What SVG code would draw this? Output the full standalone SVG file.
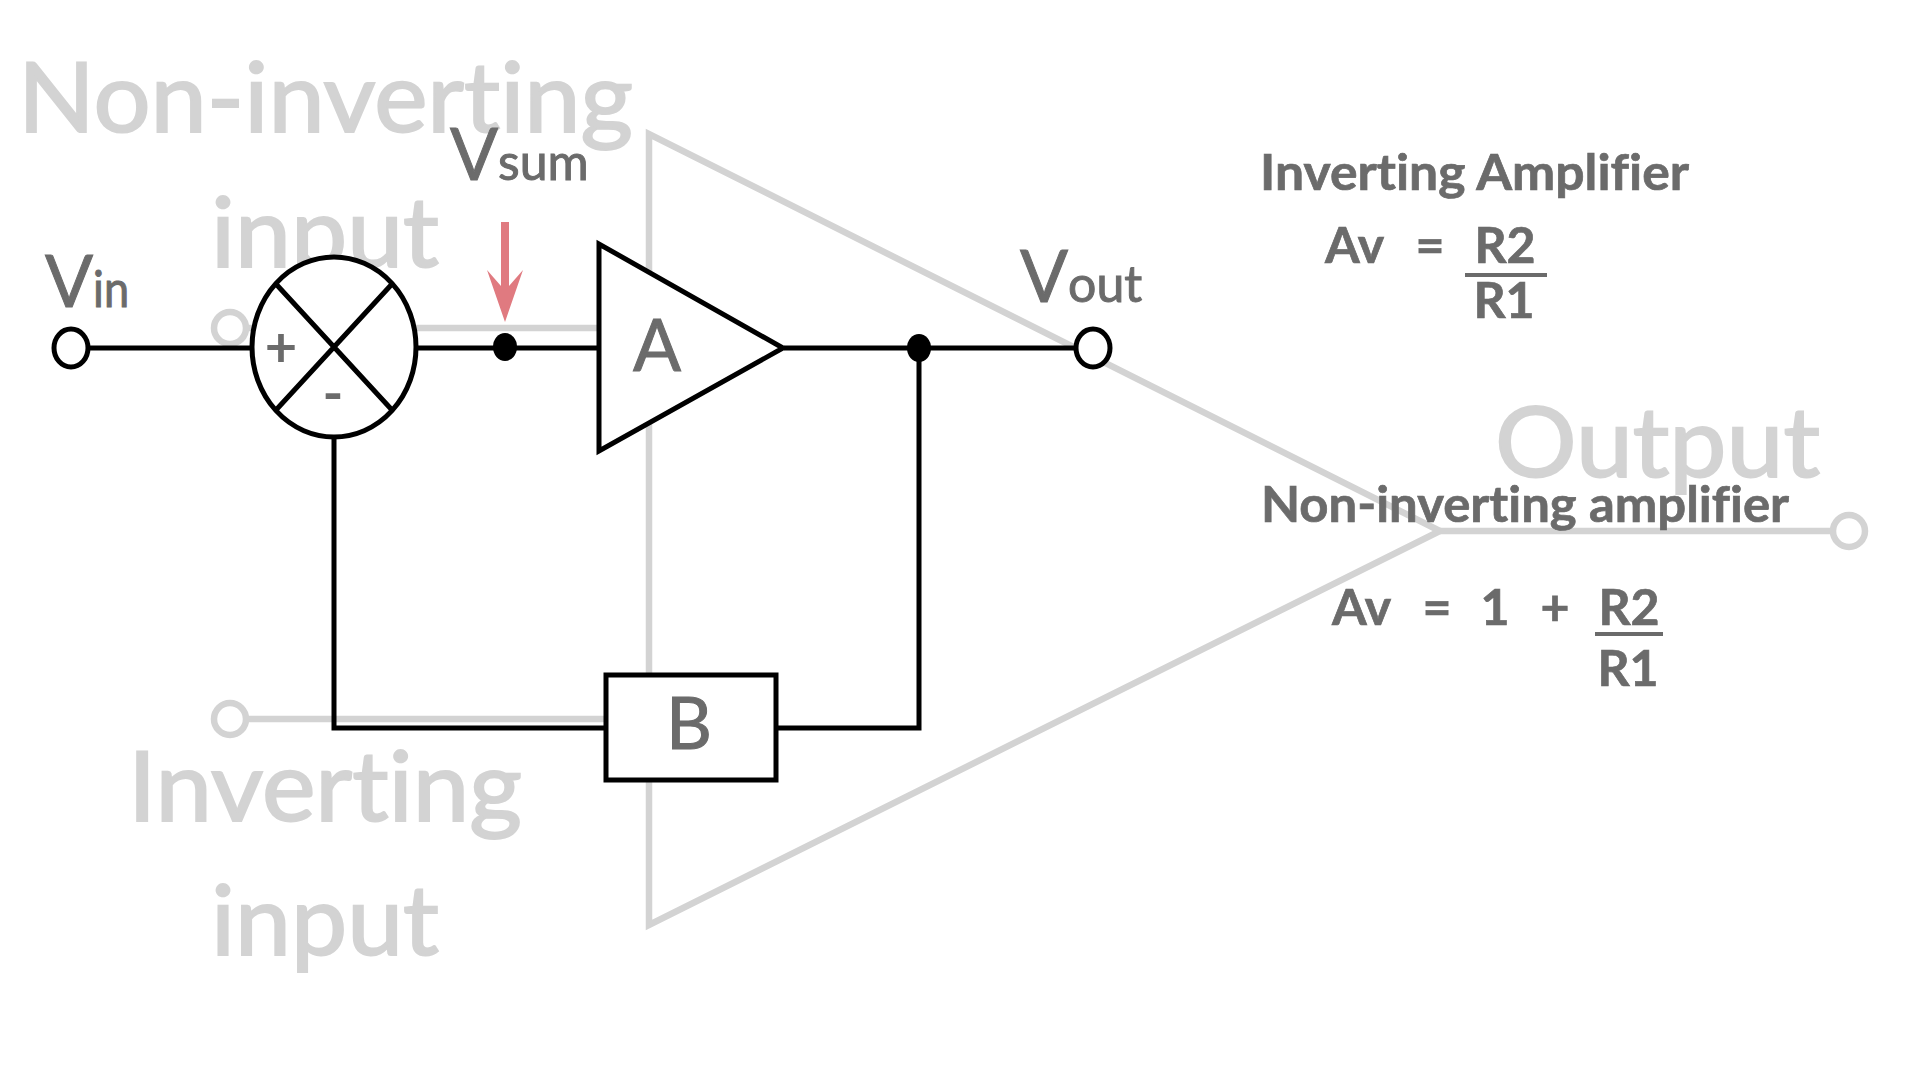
<svg xmlns="http://www.w3.org/2000/svg" width="1920" height="1080" viewBox="0 0 1920 1080">
<style>
text{font-family:Lato,"Noto Sans",sans-serif;font-variant-ligatures:none}
.g{fill:#d3d3d3;stroke:#d3d3d3;stroke-width:2;font-size:97px}
.d{fill:#6b6b6b;stroke:#6b6b6b;stroke-width:1;font-size:71px}
.s{font-size:50px}
.b{fill:#6b6b6b;stroke:#6b6b6b;stroke-width:.7;font-size:50px;font-weight:700}
.m{fill:#6b6b6b;font-size:56px;font-weight:700}
.gl{fill:none;stroke:#d3d3d3;stroke-width:6.5}
.k{fill:none;stroke:#000;stroke-width:5}
.n{fill:#fff;stroke:#000;stroke-width:5}
</style>
<rect width="1920" height="1080" fill="#fff"/>
<g id="background-opamp">
<path class="gl" d="M649 134V925L1440 531Z"/>
<path class="gl" d="M1440 531H1833M246 328H600M246 719H605"/>
<circle class="gl" cx="1849" cy="531" r="16"/>
<circle class="gl" cx="230" cy="328" r="16"/>
<circle class="gl" cx="230" cy="719" r="16"/>
<text class="g" x="18" y="132" textLength="615" lengthAdjust="spacingAndGlyphs">Non-inverting</text>
<text class="g" x="211" y="267" textLength="228" lengthAdjust="spacingAndGlyphs">input</text>
<text class="g" x="128" y="821" textLength="394" lengthAdjust="spacingAndGlyphs">Inverting</text>
<text class="g" x="211" y="955" textLength="228" lengthAdjust="spacingAndGlyphs">input</text>
<text class="g" x="1495" y="477" textLength="325" lengthAdjust="spacingAndGlyphs">Output</text>
</g>
<g id="connectors">
<path class="k" d="M88 348H252M417 348H599M784 348H1076"/>
<path class="k" d="M919 348V728H776M605 728H334V438"/>
<path fill="#e07a80" d="M501 222H509V286L523 270L505 322L487 270L501 286Z"/>
</g>
<g id="sum">
<ellipse class="n" cx="334" cy="347" rx="82" ry="90"/>
<path class="k" d="M276 284L392 410M392 284L276 410"/>
<text class="m" x="281" y="367" text-anchor="middle">+</text>
<text class="m" x="333" y="413" text-anchor="middle">-</text>
</g>
<g id="vin"><ellipse class="n" cx="71" cy="348" rx="17" ry="19"/>
<text class="d" x="45" y="307">V<tspan class="s" textLength="36" lengthAdjust="spacingAndGlyphs">in</tspan></text></g>
<g id="vsum-node"><ellipse cx="505" cy="347" rx="12" ry="14"/>
<text class="d" x="450" y="180">V<tspan class="s">sum</tspan></text></g>
<g id="amp-a"><path class="n" d="M599 244V451L783 348Z"/>
<text class="d" x="657" y="371" text-anchor="middle">A</text></g>
<g id="junction"><ellipse cx="919" cy="348" rx="12" ry="14"/></g>
<g id="vout"><ellipse class="n" cx="1093" cy="348" rx="17" ry="19"/>
<text class="d" x="1020" y="302">V<tspan class="s">out</tspan></text></g>
<g id="amp-b"><rect class="n" x="606" y="675" width="170" height="105"/>
<text class="d" x="689" y="749" text-anchor="middle">B</text></g>
<g id="inverting-formula">
<text class="b" x="1260" y="190" textLength="429" lengthAdjust="spacingAndGlyphs">Inverting Amplifier</text>
<text class="b" x="1325" y="263">Av</text>
<text class="b" x="1430" y="263" text-anchor="middle">=</text>
<text class="b" x="1505" y="263" text-anchor="middle">R2</text>
<rect x="1465" y="273" width="82" height="4" fill="#6b6b6b"/>
<text class="b" x="1504" y="318" text-anchor="middle">R1</text>
</g>
<g id="noninverting-formula">
<text class="b" x="1261" y="522" textLength="528" lengthAdjust="spacingAndGlyphs">Non-inverting amplifier</text>
<text class="b" x="1332" y="625">Av</text>
<text class="b" x="1437" y="625" text-anchor="middle">=</text>
<text class="b" x="1495" y="625" text-anchor="middle">1</text>
<text class="b" x="1555" y="625" text-anchor="middle">+</text>
<text class="b" x="1629" y="625" text-anchor="middle">R2</text>
<rect x="1595" y="632" width="68" height="4" fill="#6b6b6b"/>
<text class="b" x="1628" y="686" text-anchor="middle">R1</text>
</g>
</svg>
